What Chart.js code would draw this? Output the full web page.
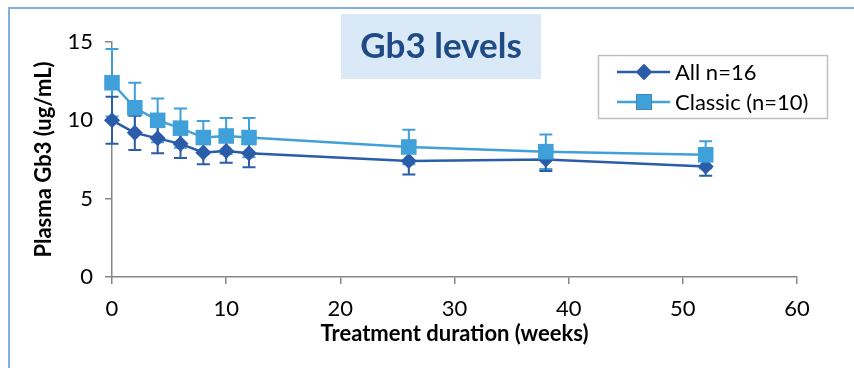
<!DOCTYPE html>
<html>
<head>
<meta charset="utf-8">
<script src="https://cdn.jsdelivr.net/npm/chart.js"></script>
<style>
  html, body { margin: 0; padding: 0; background: #fff; }
  #wrap { position: relative; width: 854px; height: 368px; }
  #frame { position: absolute; left: 8px; top: 7px; right: 0; bottom: 0;
           border-top: 2px solid #86ACE0; border-left: 2px solid #86ACE0; }
  canvas { position: absolute; left: 0; top: 0; }
</style>
</head>
<body>
<div id="wrap">
  <div id="frame"></div>
  <canvas id="chartGb3" width="854" height="368"></canvas>
</div>
<script>
// values
var weeks = [0, 2, 4, 6, 8, 10, 12, 26, 38, 52];
var allValues = [10.0, 9.2, 8.85, 8.5, 7.95, 8.05, 7.9, 7.4, 7.5, 7.05];
var allErrors = [1.5, 1.1, 0.95, 0.9, 0.75, 0.75, 0.9, 0.85, 0.73, 0.58];
var classicValues = [12.4, 10.8, 10.0, 9.5, 8.9, 9.0, 8.9, 8.3, 8.0, 7.8];
var classicErrors = [2.15, 1.6, 1.4, 1.25, 1.05, 1.15, 1.25, 1.1, 1.1, 0.87];
var seriesNames = ["All n=16", "Classic (n=10)"];
var xTicks = [0, 10, 20, 30, 40, 50, 60];
var yTicks = [0, 5, 10, 15];

var darkBlue = "#2A5CAA";
var lightBlue = "#40A0DA";
var fontName = "Lato, 'Open Sans', sans-serif";

function toPoints(xs, ys){
  var pts = [];
  for (var i = 0; i < xs.length; i++) {
    pts.push({x: xs[i], y: ys[i]});
  }
  return pts;
}

/* error bars go under the markers, so draw them before the datasets */
var errorBarPlugin = {
  id: "errorBars",
  beforeDatasetsDraw: function(chart){
    var ctx = chart.ctx;
    var xs = chart.scales.x, ys = chart.scales.y;
    chart.data.datasets.forEach(function(ds){
      ctx.save();
      ctx.strokeStyle = ds.borderColor;
      ctx.lineWidth = 2;
      ds.data.forEach(function(p, i){
        var err = ds.errors[i];
        var px = xs.getPixelForValue(p.x);
        var top = ys.getPixelForValue(p.y + err);
        var bot = ys.getPixelForValue(p.y - err);
        ctx.beginPath();
        ctx.moveTo(px, top); ctx.lineTo(px, bot);
        ctx.moveTo(px - 6.5, top); ctx.lineTo(px + 6.5, top);
        ctx.moveTo(px - 6.5, bot); ctx.lineTo(px + 6.5, bot);
        ctx.stroke();
      });
      ctx.restore();
    });
  }
};

/* title box and boxed legend like the original figure */
var decorPlugin = {
  id: "decor",
  afterDraw: function(chart){
    var ctx = chart.ctx;
    ctx.save();
    ctx.fillStyle = "#DAE9F7";
    ctx.fillRect(341, 14, 200, 65);
    ctx.fillStyle = "#1F4A85";
    ctx.font = "bold 35px " + fontName;
    ctx.textAlign = "center";
    ctx.textBaseline = "middle";
    ctx.fillText("Gb3 levels", 441, 47);

    ctx.strokeStyle = "#BFBFBF";
    ctx.lineWidth = 1.5;
    ctx.strokeRect(598.5, 55.5, 229, 63);
    ctx.textAlign = "left";
    ctx.font = "22px " + fontName;
    var legendSets = [chart.data.datasets[1], chart.data.datasets[0]];
    legendSets.forEach(function(ds, i){
      var y = 72 + i * 30;
      ctx.strokeStyle = ds.borderColor;
      ctx.lineWidth = ds.borderWidth;
      ctx.beginPath();
      ctx.moveTo(617, y); ctx.lineTo(670, y);
      ctx.stroke();
      Chart.helpers.drawPoint(ctx, {
        pointStyle: ds.pointStyle, radius: ds.pointRadius, borderWidth: 0
      }, 644, y);
      ctx.fillStyle = ds.backgroundColor;
      ctx.fill();
      ctx.fillStyle = "#000";
      ctx.fillText(ds.label, 675, y + 1);
    });
    ctx.restore();
  }
};

var ctxG = document.getElementById("chartGb3").getContext("2d");
var gb3Chart = new Chart(ctxG, {
  type: "line",
  data: {
    datasets: [{
      label: seriesNames[1],
      data: toPoints(weeks, classicValues),
      errors: classicErrors,
      borderColor: lightBlue,
      backgroundColor: lightBlue,
      borderWidth: 2.5,
      pointStyle: "rect",
      pointRadius: 11,
      pointBorderWidth: 0,
      order: 0
    }, {
      label: seriesNames[0],
      data: toPoints(weeks, allValues),
      errors: allErrors,
      borderColor: darkBlue,
      backgroundColor: darkBlue,
      borderWidth: 2.5,
      pointStyle: "rectRot",
      pointRadius: 8,
      pointBorderWidth: 0,
      order: 1
    }]
  },
  options: {
    responsive: false,
    animation: false,
    clip: false,
    layout: { padding: { left: 10, top: 42, right: 57, bottom: 21 } },
    plugins: { legend: { display: false }, title: { display: false }, tooltip: { enabled: false } },
    scales: {
      x: {
        type: "linear",
        min: 0, max: 60,
        afterBuildTicks: function(scale){ scale.ticks = xTicks.map(function(v){ return {value: v}; }); },
        afterFit: function(scale){ scale.height = 70; },
        ticks: { color: "#000", font: { family: fontName, size: 22 }, padding: 12 },
        grid: { drawOnChartArea: false, drawTicks: true, tickLength: 7, color: "#868686", lineWidth: 1.5 },
        border: { color: "#868686", width: 1.5 },
        title: { display: true, text: "Treatment duration (weeks)", color: "#000",
                 font: { family: fontName, size: 22, weight: "bold" }, padding: 0 }
      },
      y: {
        min: 0, max: 15,
        afterBuildTicks: function(scale){ scale.ticks = yTicks.map(function(v){ return {value: v}; }); },
        afterFit: function(scale){ scale.width = 102; },
        ticks: { color: "#000", font: { family: fontName, size: 22 }, padding: 12 },
        grid: { drawOnChartArea: false, drawTicks: true, tickLength: 7, color: "#868686", lineWidth: 1.5 },
        border: { color: "#868686", width: 1.5 },
        title: { display: true, text: "Plasma Gb3 (ug/mL)", color: "#000",
                 font: { family: fontName, size: 22, weight: "bold" }, padding: { top: 21, bottom: 0 } }
      }
    }
  },
  plugins: [errorBarPlugin, decorPlugin]
});
</script>
</body>
</html>
